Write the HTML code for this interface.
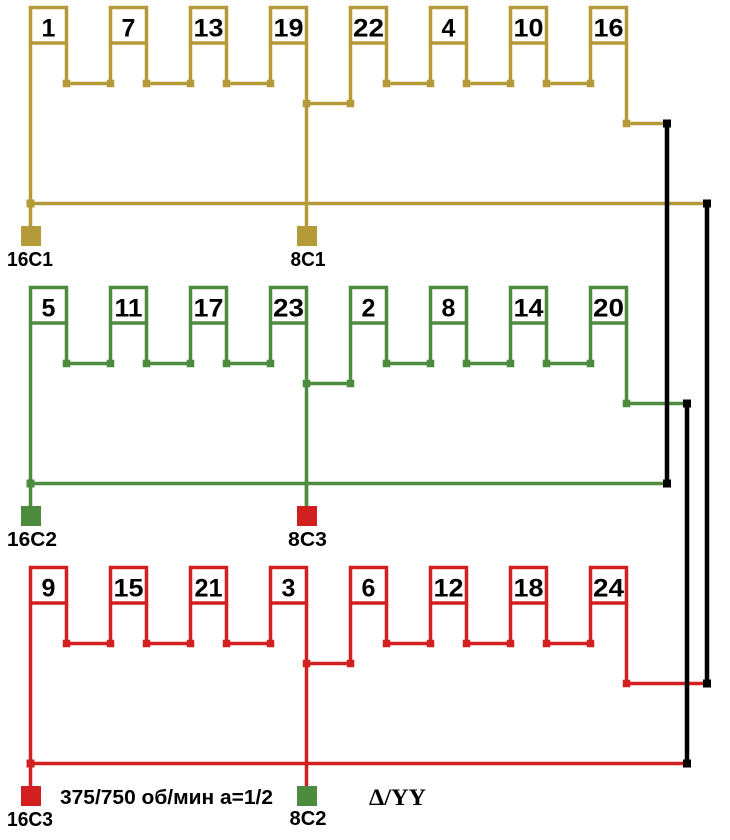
<!DOCTYPE html>
<html><head><meta charset="utf-8"><style>
html,body{margin:0;padding:0;background:#fff;}
svg{display:block;}
.n{font-family:"Liberation Sans",Arial,sans-serif;font-weight:bold;font-size:25px;fill:#000;text-anchor:middle;}
.t{font-family:"Liberation Sans",Arial,sans-serif;font-weight:bold;font-size:20px;fill:#000;text-anchor:middle;}
</style></head><body>
<svg width="730" height="840" viewBox="0 0 730 840" xmlns="http://www.w3.org/2000/svg">
<defs>
<g id="frame" fill="none" stroke-width="3.5">
  <rect x="30.5" y="7.5" width="36" height="35.5"/>
  <rect x="110.5" y="7.5" width="36" height="35.5"/>
  <rect x="190.5" y="7.5" width="36" height="35.5"/>
  <rect x="270.5" y="7.5" width="36" height="35.5"/>
  <rect x="350.5" y="7.5" width="36" height="35.5"/>
  <rect x="430.5" y="7.5" width="36" height="35.5"/>
  <rect x="510.5" y="7.5" width="36" height="35.5"/>
  <rect x="590.5" y="7.5" width="36" height="35.5"/>
  <path d="M66.5 43V83.5H110.5V43M146.5 43V83.5H190.5V43M226.5 43V83.5H270.5V43M386.5 43V83.5H430.5V43M466.5 43V83.5H510.5V43M546.5 43V83.5H590.5V43M30.5 43V228M306.5 43V228M306.5 103.5H350.5V43M626.5 43V123.5"/>
</g>
<g id="sq" stroke="none">
  <rect x="62.75" y="79.75" width="7.5" height="7.5"/>
  <rect x="106.75" y="79.75" width="7.5" height="7.5"/>
  <rect x="142.75" y="79.75" width="7.5" height="7.5"/>
  <rect x="186.75" y="79.75" width="7.5" height="7.5"/>
  <rect x="222.75" y="79.75" width="7.5" height="7.5"/>
  <rect x="266.75" y="79.75" width="7.5" height="7.5"/>
  <rect x="382.75" y="79.75" width="7.5" height="7.5"/>
  <rect x="426.75" y="79.75" width="7.5" height="7.5"/>
  <rect x="462.75" y="79.75" width="7.5" height="7.5"/>
  <rect x="506.75" y="79.75" width="7.5" height="7.5"/>
  <rect x="542.75" y="79.75" width="7.5" height="7.5"/>
  <rect x="586.75" y="79.75" width="7.5" height="7.5"/>
  <rect x="302.75" y="99.75" width="7.5" height="7.5"/>
  <rect x="346.75" y="99.75" width="7.5" height="7.5"/>
  <rect x="622.75" y="119.75" width="7.5" height="7.5"/>
  <rect x="26.5" y="199.5" width="8" height="8"/>
</g>
</defs>

<!-- Row 1 gold -->
<g stroke="#B59A3A" fill="#B59A3A">
  <use href="#frame"/>
  <use href="#sq"/>
  <path d="M626.5 123.5H667M30.5 203.5H707" fill="none" stroke-width="3.5"/>
  <rect x="21" y="226" width="20" height="20" stroke="none"/>
  <rect x="297" y="226" width="20" height="20" stroke="none"/>
</g>
<text class="n" x="48.5" y="36.5">1</text>
<text class="n" x="128.5" y="36.5">7</text>
<text class="n" x="208.5" y="36.5" textLength="30" lengthAdjust="spacingAndGlyphs">13</text>
<text class="n" x="288.5" y="36.5" textLength="30" lengthAdjust="spacingAndGlyphs">19</text>
<text class="n" x="368.5" y="36.5" textLength="31" lengthAdjust="spacingAndGlyphs">22</text>
<text class="n" x="448.5" y="36.5">4</text>
<text class="n" x="528.5" y="36.5" textLength="30" lengthAdjust="spacingAndGlyphs">10</text>
<text class="n" x="608.5" y="36.5" textLength="30" lengthAdjust="spacingAndGlyphs">16</text>
<text class="t" x="30" y="266" textLength="46" lengthAdjust="spacingAndGlyphs">16C1</text>
<text class="t" x="308" y="266" textLength="35" lengthAdjust="spacingAndGlyphs">8C1</text>

<!-- Row 2 green -->
<g transform="translate(0,280)">
<g stroke="#4D8B3E" fill="#4D8B3E">
  <use href="#frame"/>
  <use href="#sq"/>
  <path d="M626.5 123.5H687M30.5 203.5H667" fill="none" stroke-width="3.5"/>
  <rect x="21" y="226" width="20" height="20" stroke="none"/>
</g>
<path d="M306.5 200V228" stroke="#4D8B3E" stroke-width="3.5"/>
<rect x="297" y="226" width="20" height="20" fill="#D21F1F"/>
<text class="n" x="48.5" y="36.5">5</text>
<text class="n" x="128.5" y="36.5" textLength="28" lengthAdjust="spacingAndGlyphs">11</text>
<text class="n" x="208.5" y="36.5" textLength="30" lengthAdjust="spacingAndGlyphs">17</text>
<text class="n" x="288.5" y="36.5" textLength="31" lengthAdjust="spacingAndGlyphs">23</text>
<text class="n" x="368.5" y="36.5">2</text>
<text class="n" x="448.5" y="36.5">8</text>
<text class="n" x="528.5" y="36.5" textLength="30" lengthAdjust="spacingAndGlyphs">14</text>
<text class="n" x="608.5" y="36.5" textLength="31" lengthAdjust="spacingAndGlyphs">20</text>
<text class="t" x="32" y="266" textLength="50" lengthAdjust="spacingAndGlyphs">16C2</text>
<text class="t" x="307.5" y="266" textLength="39" lengthAdjust="spacingAndGlyphs">8C3</text>
</g>

<!-- Row 3 red -->
<g transform="translate(0,560)">
<g stroke="#D21F1F" fill="#D21F1F">
  <use href="#frame"/>
  <use href="#sq"/>
  <path d="M626.5 123.5H707M30.5 203.5H687" fill="none" stroke-width="3.5"/>
  <rect x="21" y="226" width="20" height="20" stroke="none"/>
</g>
<rect x="297" y="226" width="20" height="20" fill="#4D8B3E"/>
<text class="n" x="48.5" y="36.5">9</text>
<text class="n" x="128.5" y="36.5" textLength="30" lengthAdjust="spacingAndGlyphs">15</text>
<text class="n" x="208.5" y="36.5" textLength="28" lengthAdjust="spacingAndGlyphs">21</text>
<text class="n" x="288.5" y="36.5">3</text>
<text class="n" x="368.5" y="36.5">6</text>
<text class="n" x="448.5" y="36.5" textLength="30" lengthAdjust="spacingAndGlyphs">12</text>
<text class="n" x="528.5" y="36.5" textLength="30" lengthAdjust="spacingAndGlyphs">18</text>
<text class="n" x="608.5" y="36.5" textLength="31" lengthAdjust="spacingAndGlyphs">24</text>
<text class="t" x="30" y="266" textLength="46" lengthAdjust="spacingAndGlyphs">16C3</text>
<text class="t" x="308" y="265" textLength="37" lengthAdjust="spacingAndGlyphs">8C2</text>
</g>

<!-- Black interconnects -->
<g stroke="#000" stroke-width="4.5" fill="none">
  <path d="M667 123.5V483.5M687 403.5V763.5M707 203.5V683.5"/>
</g>
<g fill="#000">
  <rect x="663" y="119.5" width="8" height="8"/>
  <rect x="663" y="479.5" width="8" height="8"/>
  <rect x="703" y="199.5" width="8" height="8"/>
  <rect x="703" y="679.5" width="8" height="8"/>
  <rect x="683" y="399.5" width="8" height="8"/>
  <rect x="683" y="759.5" width="8" height="8"/>
</g>

<text x="60" y="804" font-family="Liberation Sans, Arial, sans-serif" font-weight="bold" font-size="20" fill="#000" textLength="213" lengthAdjust="spacingAndGlyphs">375/750 об/мин a=1/2</text>
<text x="369" y="805" font-family="Liberation Serif, Times New Roman, serif" font-weight="bold" font-size="23" fill="#000" textLength="57" lengthAdjust="spacingAndGlyphs">Δ/YY</text>
</svg>
</body></html>
